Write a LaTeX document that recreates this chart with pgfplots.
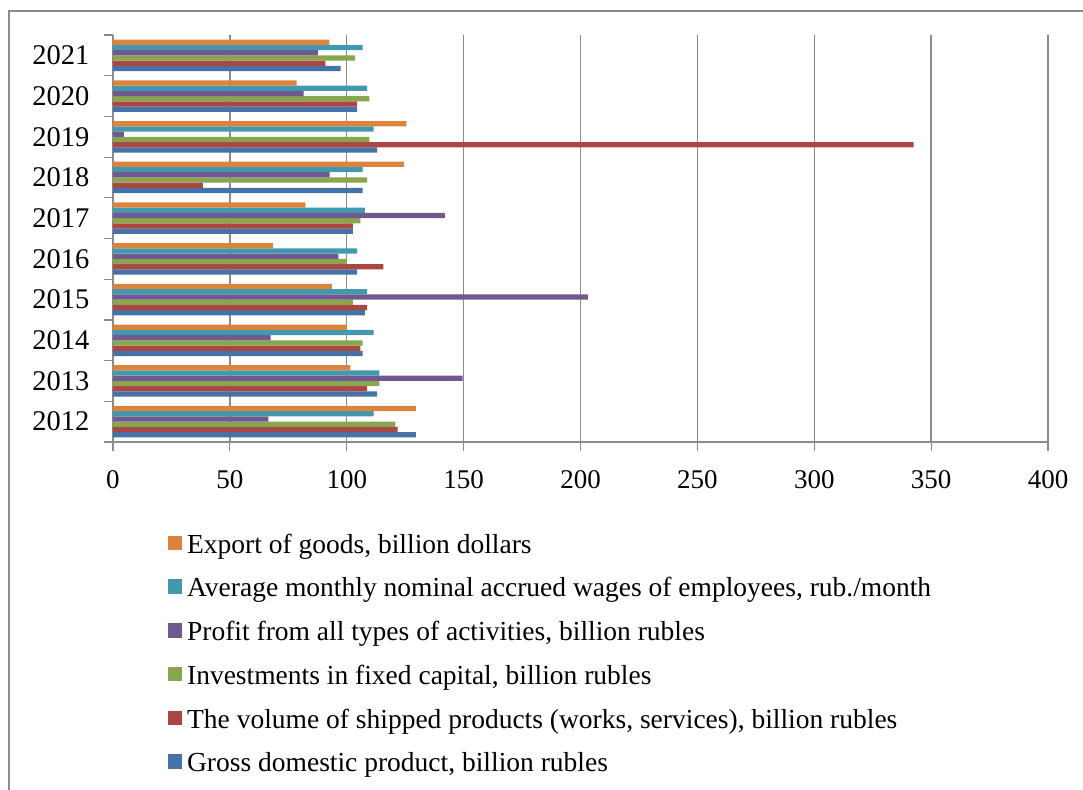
\documentclass[border=0pt]{standalone}
\usepackage{fontspec}
\setmainfont{Liberation Serif}
\usepackage{pgfplots}
\usepackage{pgfplotstable}
\usetikzlibrary{calc}
\pgfplotsset{compat=1.18}

\definecolor{cGdp}{HTML}{4572A7}
\definecolor{cShip}{HTML}{AA4643}
\definecolor{cInv}{HTML}{89A54E}
\definecolor{cProfit}{HTML}{71588F}
\definecolor{cWage}{HTML}{4198AF}
\definecolor{cExport}{HTML}{DB843D}
\definecolor{cGrid}{HTML}{8C8C8C}

% year index (0 = 2012), then one column per indicator
\pgfplotstableread{
idx  gdp    ship   inv    profit wage   export
0    129.6  121.8  120.8  66.5   111.5  129.6
1    113.0  108.7  114.0  149.6  114.0  101.6
2    106.8  105.8  106.8  67.4   111.5  100.1
3    107.8  108.7  102.6  203.1  108.7  93.6
4    104.4  115.7  100.1  96.4   104.4  68.4
5    102.6  102.6  105.8  142.0  107.8  82.3
6    106.8  38.5   108.7  92.7   106.8  124.5
7    113.0  342.5  109.7  4.7    111.5  125.5
8    104.4  104.4  109.7  81.5   108.7  78.6
9    97.4   90.9   103.6  87.6   106.8  92.6
}\data

\begin{document}
\begin{tikzpicture}
\begin{axis}[
  scale only axis, width=935pt, height=407pt,
  xbar=0pt, bar width=5.25pt,
  xmin=0, xmax=400,
  ymin=-0.5, ymax=9.5,
  axis x line*=bottom, axis y line*=left,
  axis line style={cGrid, line width=1.2pt},
  xtick={0,50,...,400},
  xmajorgrids,
  major grid style={cGrid, line width=1.3pt},
  ytick={-0.5,0.5,...,9.5},
  yticklabels={},
  extra y ticks={0,1,...,9},
  extra y tick labels={2012,2013,2014,2015,2016,2017,2018,2019,2020,2021},
  extra y tick style={major tick length=0pt, grid=none,
    yticklabel style={xshift=-20pt, font=\fontsize{28.5}{31}\selectfont}},
  tick align=outside,
  major tick length=9pt,
  tick style={cGrid, line width=1.2pt},
  /pgf/number format/assume math mode=true,
  tick label style={font=\fontsize{27}{30}\selectfont, black},
  xticklabel style={yshift=-16pt},
  reverse legend,
  legend cell align=left,
  legend image code/.code={\fill[#1,draw=none] (0pt,0.5pt) rectangle (14.5pt,15pt);},
  legend style={at={(0.055,-0.225)}, anchor=north west, draw=none,
    font=\fontsize{27.5}{31}\selectfont, row sep=22pt,
    nodes={text height=0.72em, text depth=0.22em, inner ysep=2pt, inner xsep=5pt}},
]
\coordinate (O) at (rel axis cs:0,0);
\addplot[fill=cGdp, draw=none] table[x=gdp, y=idx] {\data};
\addlegendentry{Gross domestic product, billion rubles}
\addplot[fill=cShip, draw=none] table[x=ship, y=idx] {\data};
\addlegendentry{The volume of shipped products (works, services), billion rubles}
\addplot[fill=cInv, draw=none] table[x=inv, y=idx] {\data};
\addlegendentry{Investments in fixed capital, billion rubles}
\addplot[fill=cProfit, draw=none] table[x=profit, y=idx] {\data};
\addlegendentry{Profit from all types of activities, billion rubles}
\addplot[fill=cWage, draw=none] table[x=wage, y=idx] {\data};
\addlegendentry{Average monthly nominal accrued wages of employees, rub./month}
\addplot[fill=cExport, draw=none] table[x=export, y=idx] {\data};
\addlegendentry{Export of goods, billion dollars}
\end{axis}
% outer frame of the chart area
\draw[cGrid, line width=1.6pt] ($(O)+(-104pt,-400pt)$) -- ($(O)+(-104pt,431pt)$) -- ($(O)+(1000pt,431pt)$);
\pgfresetboundingbox
\path[use as bounding box] ($(O)+(-113pt,-347pt)$) rectangle ($(O)+(970pt,442pt)$);
\end{tikzpicture}
\end{document}
